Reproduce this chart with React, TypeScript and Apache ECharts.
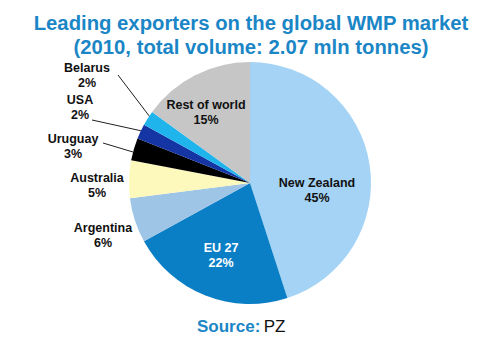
import React, { useEffect, useRef } from "react";
import * as echarts from "echarts";

const categories = ["New Zealand", "EU 27", "Argentina", "Australia", "Uruguay", "USA", "Belarus", "Rest of world"];
const shares = [45, 22, 6, 5, 3, 2, 2, 15];
const colors = ["#a4d3f5", "#0b7fc6", "#9ec4e6", "#fdf9bd", "#000000", "#1535a5", "#1fb5ec", "#c6c6c6"];

// label placement (pixel positions of label block centres) and leader lines
const labelPos: Record<string, [number, number]> = {
  "New Zealand": [317, 190],
  "EU 27": [221, 255],
  "Argentina": [103, 235],
  "Australia": [97, 185],
  "Uruguay": [73, 146],
  "USA": [80, 107],
  "Belarus": [87, 75],
  "Rest of world": [206, 112],
};
const leaderLines: Record<string, number[][]> = {
  "Uruguay": [[103, 143], [133, 152]],
  "USA": [[92, 120], [142, 131]],
  "Belarus": [[118, 75], [150, 117]],
};
const outsideNames = ["Argentina", "Australia", "Uruguay", "USA", "Belarus"];

export default function App() {
  const ref = useRef<HTMLDivElement>(null);
  useEffect(() => {
    document.body.style.margin = "0";
    const chart = echarts.init(ref.current!, null, { renderer: "svg" });
    const data = categories.map((name, i) => {
      const outside = outsideNames.includes(name);
      return {
        name,
        value: shares[i],
        itemStyle: { color: colors[i] },
        label: {
          position: outside ? "outside" : "inside",
          color: name === "EU 27" ? "#ffffff" : "#111111",
        },
        labelLine: { show: !!leaderLines[name] },
      };
    });
    chart.setOption({
      animation: false,
      backgroundColor: "#ffffff",
      title: {
        text: "Leading exporters on the global WMP market\n(2010, total volume: 2.07 mln tonnes)",
        left: 246,
        top: 6,
        textAlign: "center",
        textStyle: {
          color: "#1b86c6",
          fontFamily: "Liberation Sans, Arial, sans-serif",
          fontWeight: "bold",
          fontSize: 20.3,
          lineHeight: 24,
        },
      },
      graphic: [
        {
          type: "text",
          left: 197,
          top: 318,
          style: {
            text: "{a|Source:} {b|PZ}",
            rich: {
              a: { fontFamily: "Liberation Sans, Arial, sans-serif", fontWeight: "bold", fontSize: 17, fill: "#1b86c6" },
              b: { fontFamily: "Liberation Sans, Arial, sans-serif", fontSize: 17, fill: "#111111" },
            },
          },
        },
      ],
      series: [
        {
          type: "pie",
          center: [250, 183],
          radius: 121,
          startAngle: 90,
          clockwise: true,
          data,
          label: {
            show: true,
            formatter: "{b}\n{c}%",
            fontFamily: "Liberation Sans, Arial, sans-serif",
            fontWeight: "bold",
            fontSize: 12.5,
            lineHeight: 15,
            align: "center",
          },
          labelLine: {
            show: false,
            lineStyle: { color: "#222222", width: 1 },
          },
          labelLayout: (p: any) => {
            const name = categories[p.dataIndex];
            const pos = labelPos[name];
            const out: any = { x: pos[0], y: pos[1], align: "center", verticalAlign: "middle" };
            if (leaderLines[name]) out.labelLinePoints = leaderLines[name];
            return out;
          },
          emphasis: { disabled: true },
        },
      ],
    });
    return () => chart.dispose();
  }, []);
  return <div ref={ref} style={{ width: 500, height: 355 }} />;
}
